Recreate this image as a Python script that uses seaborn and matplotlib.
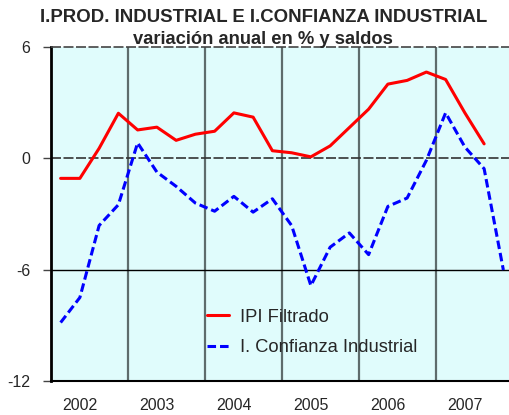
import numpy as np
import pandas as pd
import matplotlib
matplotlib.use("Agg")
import matplotlib.pyplot as plt
import seaborn as sns

# quarterly series, 2002Q1 .. 2007Q4
years = ["2002", "2003", "2004", "2005", "2006", "2007"]
quarters = [f"{y}Q{q}" for y in years for q in range(1, 5)]

ipi_filtrado = [-1.08, -1.08, 0.54, 2.43, 1.53, 1.68, 0.97, 1.30,
                1.46, 2.45, 2.22, 0.41, 0.30, 0.08, 0.67, 1.66,
                2.65, 4.00, 4.20, 4.65, 4.25, 2.45, 0.78]
confianza = [-8.85, -7.50, -3.62, -2.50, 0.83, -0.74, -1.51, -2.41,
             -2.85, -2.05, -2.90, -2.18, -3.62, -6.86, -4.79, -4.02,
             -5.19, -2.59, -2.14, -0.11, 2.45, 0.61, -0.56, -6.02]

yticks = [6, 0, -6, -12]

ipi_df = pd.DataFrame({"t": np.arange(len(ipi_filtrado)), "v": ipi_filtrado})
conf_df = pd.DataFrame({"t": np.arange(len(confianza)), "v": confianza})

sns.set_style("white")
plt.rcParams["font.family"] = ["Liberation Sans", "DejaVu Sans"]

fig = plt.figure(figsize=(5.10, 4.15), dpi=100)
ax = fig.add_axes([51 / 510, 34 / 415, 462 / 510, 334 / 415])
ax.set_facecolor("#E0FCFC")

# year separators
for k in range(1, len(years)):
    ax.axvline(4 * k - 0.5, color="#5E6C6C", lw=1.6, zorder=1)
ax.axhline(0, color="#333333", lw=1.2, ls=(0, (6, 1.5)), zorder=1)
ax.axhline(-6, color="black", lw=1.0, zorder=1)
ax.axhline(6, color="#444444", lw=1.2, ls=(0, (6, 1.5)), zorder=3, clip_on=False)

sns.lineplot(data=ipi_df, x="t", y="v", color="#FF0000", lw=2.2,
             label="IPI Filtrado", ax=ax, zorder=4)
sns.lineplot(data=conf_df, x="t", y="v", color="#0000FF", lw=2.2,
             linestyle=(0, (2.8, 1.3)), label="I. Confianza Industrial",
             ax=ax, zorder=4)

ax.set_xlim(-0.5, len(quarters) - 0.5)
ax.set_ylim(-12, 6)
ax.set_yticks(yticks)
ax.set_yticklabels([str(v) for v in yticks], fontsize=11.5)
ax.set_xticks([4 * k + 1 for k in range(len(years))])
ax.set_xticklabels(years, fontsize=11.5)
ax.tick_params(axis="y", length=6, width=1, color="#444444", pad=9, direction="out", left=True)
ax.tick_params(axis="x", length=0, pad=12)
ax.set_xlabel("")
ax.set_ylabel("")

for s in ["top", "right"]:
    ax.spines[s].set_visible(False)
ax.spines["left"].set_color("black")
ax.spines["left"].set_linewidth(2)
ax.spines["bottom"].set_color("black")
ax.spines["bottom"].set_linewidth(1.5)

leg = ax.legend(loc="upper left", bbox_to_anchor=(207 / 510, (415 - 308.5) / 415),
                bbox_transform=fig.transFigure, frameon=False, fontsize=13.2,
                handlelength=1.2, handletextpad=0.6, labelspacing=0.74,
                borderpad=0, borderaxespad=0)

fig.text(264 / 510, 1 - 18 / 415, "I.PROD. INDUSTRIAL E I.CONFIANZA INDUSTRIAL",
         ha="center", va="center", fontsize=13.4, fontweight="bold")
fig.text(263 / 510, 1 - 40 / 415, "variación anual en % y saldos",
         ha="center", va="center", fontsize=13.2, fontweight="bold")

fig.savefig("out.png", dpi=100)
